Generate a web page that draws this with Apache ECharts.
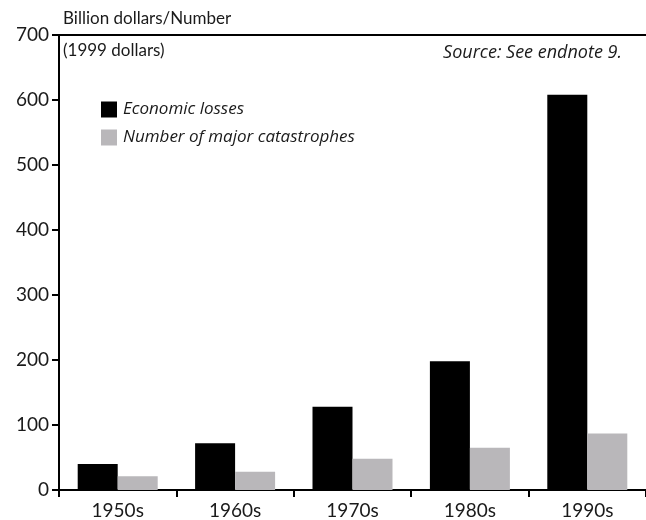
<!DOCTYPE html>
<html>
<head>
<meta charset="utf-8">
<script src="https://cdn.jsdelivr.net/npm/echarts@6/dist/echarts.min.js"></script>
<style>
  html, body { margin: 0; padding: 0; background: #fff; }
  #chart { width: 646px; height: 520px; }
</style>
</head>
<body>
<div id="chart"></div>
<script>
// Decade totals: economic losses (billion 1999 dollars) and count of major catastrophes
const decades = ['1950s', '1960s', '1970s', '1980s', '1990s'];
const economicLosses = [40, 72, 128, 198, 608];
const majorCatastrophes = [21, 28, 48, 65, 87];
const yTicks = { min: 0, max: 700, interval: 100 };

const FONT = 'Lato';
const ITALIC_FONT = 'Open Sans';
const INK = '#1a1a1a';

const chart = echarts.init(document.getElementById('chart'), null, { renderer: 'canvas' });

chart.setOption({
  animation: false,
  backgroundColor: '#ffffff',
  grid: { left: 59, right: -8, top: 35, bottom: 30, containLabel: false },
  legend: {
    orient: 'vertical',
    left: 96,
    top: 96,
    itemWidth: 16,
    itemHeight: 16,
    itemGap: 11,
    icon: 'rect',
    textStyle: { fontFamily: ITALIC_FONT, fontStyle: 'italic', fontSize: 17, color: INK, padding: [0, 0, 0, 1] },
    data: ['Economic losses', 'Number of major catastrophes']
  },
  xAxis: [
    {
      type: 'category',
      data: decades,
      axisLine: { lineStyle: { color: '#000', width: 2 } },
      axisTick: { show: true, length: 7, lineStyle: { color: '#000', width: 2 } },
      axisLabel: { fontFamily: FONT, fontSize: 19, color: INK, margin: 11 }
    },
    {
      // top rule of the plot frame
      type: 'category',
      position: 'top',
      data: decades,
      axisLine: { show: true, lineStyle: { color: '#000', width: 2 } },
      axisTick: { show: false },
      axisLabel: { show: false }
    }
  ],
  yAxis: {
    type: 'value',
    min: yTicks.min,
    max: yTicks.max,
    interval: yTicks.interval,
    splitLine: { show: false },
    axisLine: { show: true, lineStyle: { color: '#000', width: 2 } },
    axisTick: { show: true, length: 7, lineStyle: { color: '#000', width: 2 } },
    axisLabel: { fontFamily: FONT, fontSize: 19, color: INK, margin: 10 }
  },
  series: [
    {
      name: 'Economic losses',
      type: 'bar',
      data: economicLosses,
      barWidth: 40,
      barGap: '0%',
      itemStyle: { color: '#000000' }
    },
    {
      name: 'Number of major catastrophes',
      type: 'bar',
      data: majorCatastrophes,
      barWidth: 40,
      barGap: '0%',
      itemStyle: { color: '#b9b7ba' }
    }
  ],
  graphic: [
    {
      type: 'text', left: 63, top: 10,
      style: { text: 'Billion dollars/Number', fontFamily: FONT, fontSize: 17, fill: INK }
    },
    {
      type: 'text', left: 63, top: 42,
      style: { text: '(1999 dollars)', fontFamily: FONT, fontSize: 17, fill: INK }
    },
    {
      type: 'text', right: 24, top: 44,
      style: { text: 'Source: See endnote 9.', fontFamily: ITALIC_FONT, fontStyle: 'italic', fontSize: 18, fill: INK }
    }
  ]
});
</script>
</body>
</html>
